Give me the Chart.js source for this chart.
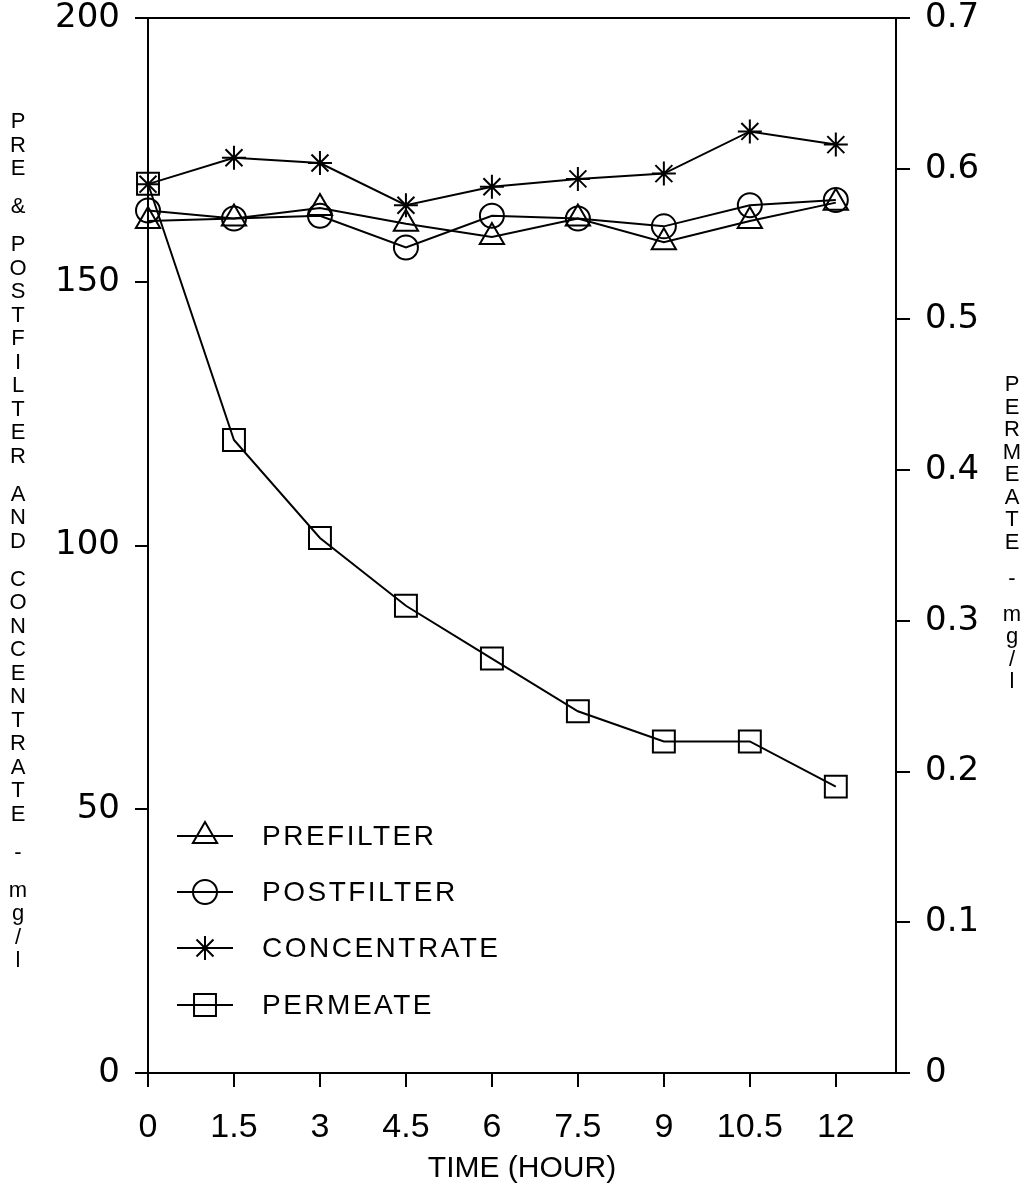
<!DOCTYPE html>
<html>
<head>
<meta charset="utf-8">
<script src="https://cdn.jsdelivr.net/npm/chart.js@4.4.1/dist/chart.umd.min.js"></script>
<style>
  html, body { margin: 0; padding: 0; background: #fff; }
  canvas { display: block; }
</style>
</head>
<body>
<canvas id="chart" width="1026" height="1197"></canvas>
<script>
// values (mg/l)
var hours = [0, 1.5, 3, 4.5, 6, 7.5, 9, 10.5, 12];
var prefilter = [161.5, 162, 164, 161, 158.5, 162, 157.5, 161.5, 165];
var postfilter = [163.5, 162, 162.5, 156.5, 162.5, 162, 160.5, 164.5, 165.5];
var concentrate = [168.5, 173.5, 172.5, 164.5, 168, 169.5, 170.5, 178.5, 176];
var permeate = [0.59, 0.42, 0.355, 0.31, 0.275, 0.24, 0.22, 0.22, 0.19];

var timeTicks = [0, 1.5, 3, 4.5, 6, 7.5, 9, 10.5, 12];
var leftTicks = [0, 50, 100, 150, 200];
var rightTicks = [0, 0.1, 0.2, 0.3, 0.4, 0.5, 0.6, 0.7];
var rightTickLabels = ['0', '0.1', '0.2', '0.3', '0.4', '0.5', '0.6', '0.7'];

var leftTitle = 'PRE & POSTFILTER AND CONCENTRATE - mg/l';
var rightTitle = 'PERMEATE - mg/l';
var xTitle = 'TIME (HOUR)';

function pts(ys) {
    return hours.map(function (h, i) { return {x: h, y: ys[i]}; });
}

function series(label, ys, style, radius, axis) {
    return {
        label: label,
        data: pts(ys),
        yAxisID: axis,
        borderColor: '#000',
        borderWidth: 2,
        backgroundColor: 'rgba(0,0,0,0)',
        pointStyle: style,
        pointRadius: radius,
        pointHoverRadius: radius,
        pointBorderColor: '#000',
        pointBorderWidth: 2,
        pointBackgroundColor: 'rgba(0,0,0,0)',
        tension: 0,
        fill: false,
        clip: false
    };
}

// letters stacked one under the other, like the plotter did it
function stackText(ctx, text, x, y0, step, gap) {
    var y = y0;
    for (var i = 0; i < text.length; i++) {
        var ch = text[i];
        if (ch === ' ') { y += gap - step; continue; }
        ctx.fillText(ch, x, y);
        y += step;
    }
}

var decor = {
    id: 'decor',
    afterDraw: function (chart) {
        var ctx = chart.ctx;
        ctx.save();
        ctx.fillStyle = '#000';
        ctx.textAlign = 'center';
        ctx.textBaseline = 'middle';
        ctx.font = '22px "Liberation Sans", Arial, sans-serif';
        stackText(ctx, leftTitle, 18, 122, 23.5, 38);
        stackText(ctx, rightTitle, 1012, 385, 22.5, 36);

        // legend: line through the marker, then the label
        var rows = [836, 892, 948, 1005];
        ctx.font = '28px "Liberation Sans", Arial, sans-serif';
        ctx.textAlign = 'left';
        try { ctx.letterSpacing = '2.5px'; } catch (e) {}
        chart.data.datasets.forEach(function (ds, i) {
            var y = rows[i];
            ctx.strokeStyle = '#000';
            ctx.lineWidth = 2;
            ctx.beginPath();
            ctx.moveTo(177, y);
            ctx.lineTo(233, y);
            ctx.stroke();
            ctx.fillStyle = 'rgba(0,0,0,0)';
            Chart.helpers.drawPoint(ctx, {
                pointStyle: ds.pointStyle,
                radius: ds.pointRadius,
                rotation: 0,
                borderWidth: 2
            }, 205, y);
            ctx.fillStyle = '#000';
            ctx.fillText(ds.label, 262, y + 1);
        });
        ctx.restore();
    }
};

var axisLine = {color: '#000', width: 2};

function noPad(s) {
    s.paddingTop = 0;
    s.paddingBottom = 0;
    s.paddingLeft = 0;
    s.paddingRight = 0;
}

var ctx = document.getElementById('chart').getContext('2d');
var chart = new Chart(ctx, {
    type: 'line',
    data: {
        datasets: [
            series('PREFILTER', prefilter, 'triangle', 14, 'y'),
            series('POSTFILTER', postfilter, 'circle', 12, 'y'),
            series('CONCENTRATE', concentrate, 'star', 12, 'y'),
            series('PERMEATE', permeate, 'rect', 15.5, 'y2')
        ]
    },
    options: {
        responsive: false,
        animation: false,
        events: [],
        layout: {padding: {left: 0, right: 0, top: 18, bottom: 0}},
        plugins: {
            legend: {display: false},
            tooltip: {enabled: false}
        },
        scales: {
            x: {
                type: 'linear',
                position: 'bottom',
                min: 0,
                max: 13.05,
                afterBuildTicks: function (s) {
                    s.ticks = timeTicks.map(function (v) { return {value: v}; });
                },
                afterFit: function (s) { s.height = 124; noPad(s); },
                ticks: {
                    color: '#000',
                    padding: 20,
                    maxRotation: 0,
                    autoSkip: false,
                    font: {family: '"Liberation Sans", Arial, sans-serif', size: 34},
                    callback: function (v) { return String(v); }
                },
                grid: {drawOnChartArea: false, color: '#000', lineWidth: 2, tickLength: 14},
                border: axisLine,
                title: {
                    display: true,
                    text: xTitle,
                    color: '#000',
                    font: {family: '"Liberation Sans", Arial, sans-serif', size: 30},
                    padding: {top: 0, bottom: 10}
                }
            },
            xTop: {
                type: 'linear',
                position: 'top',
                min: 0,
                max: 13.05,
                afterFit: function (s) { s.height = 0; noPad(s); },
                ticks: {display: false},
                grid: {display: false},
                border: axisLine
            },
            y: {
                type: 'linear',
                position: 'left',
                min: 0,
                max: 200,
                afterBuildTicks: function (s) {
                    s.ticks = leftTicks.map(function (v) { return {value: v}; });
                },
                afterFit: function (s) { s.width = 148; noPad(s); },
                ticks: {
                    color: '#000',
                    padding: 15,
                    font: {family: '"DejaVu Sans", sans-serif', size: 34}
                },
                grid: {drawOnChartArea: false, color: '#000', lineWidth: 2, tickLength: 13},
                border: axisLine
            },
            y2: {
                type: 'linear',
                position: 'right',
                min: 0,
                max: 0.7,
                afterBuildTicks: function (s) {
                    s.ticks = rightTicks.map(function (v) { return {value: v}; });
                },
                afterFit: function (s) { s.width = 130; noPad(s); },
                ticks: {
                    color: '#000',
                    padding: 15,
                    font: {family: '"DejaVu Sans", sans-serif', size: 34},
                    callback: function (v, i) { return rightTickLabels[i]; }
                },
                grid: {drawOnChartArea: false, color: '#000', lineWidth: 2, tickLength: 14},
                border: axisLine
            }
        }
    },
    plugins: [decor]
});
</script>
</body>
</html>
